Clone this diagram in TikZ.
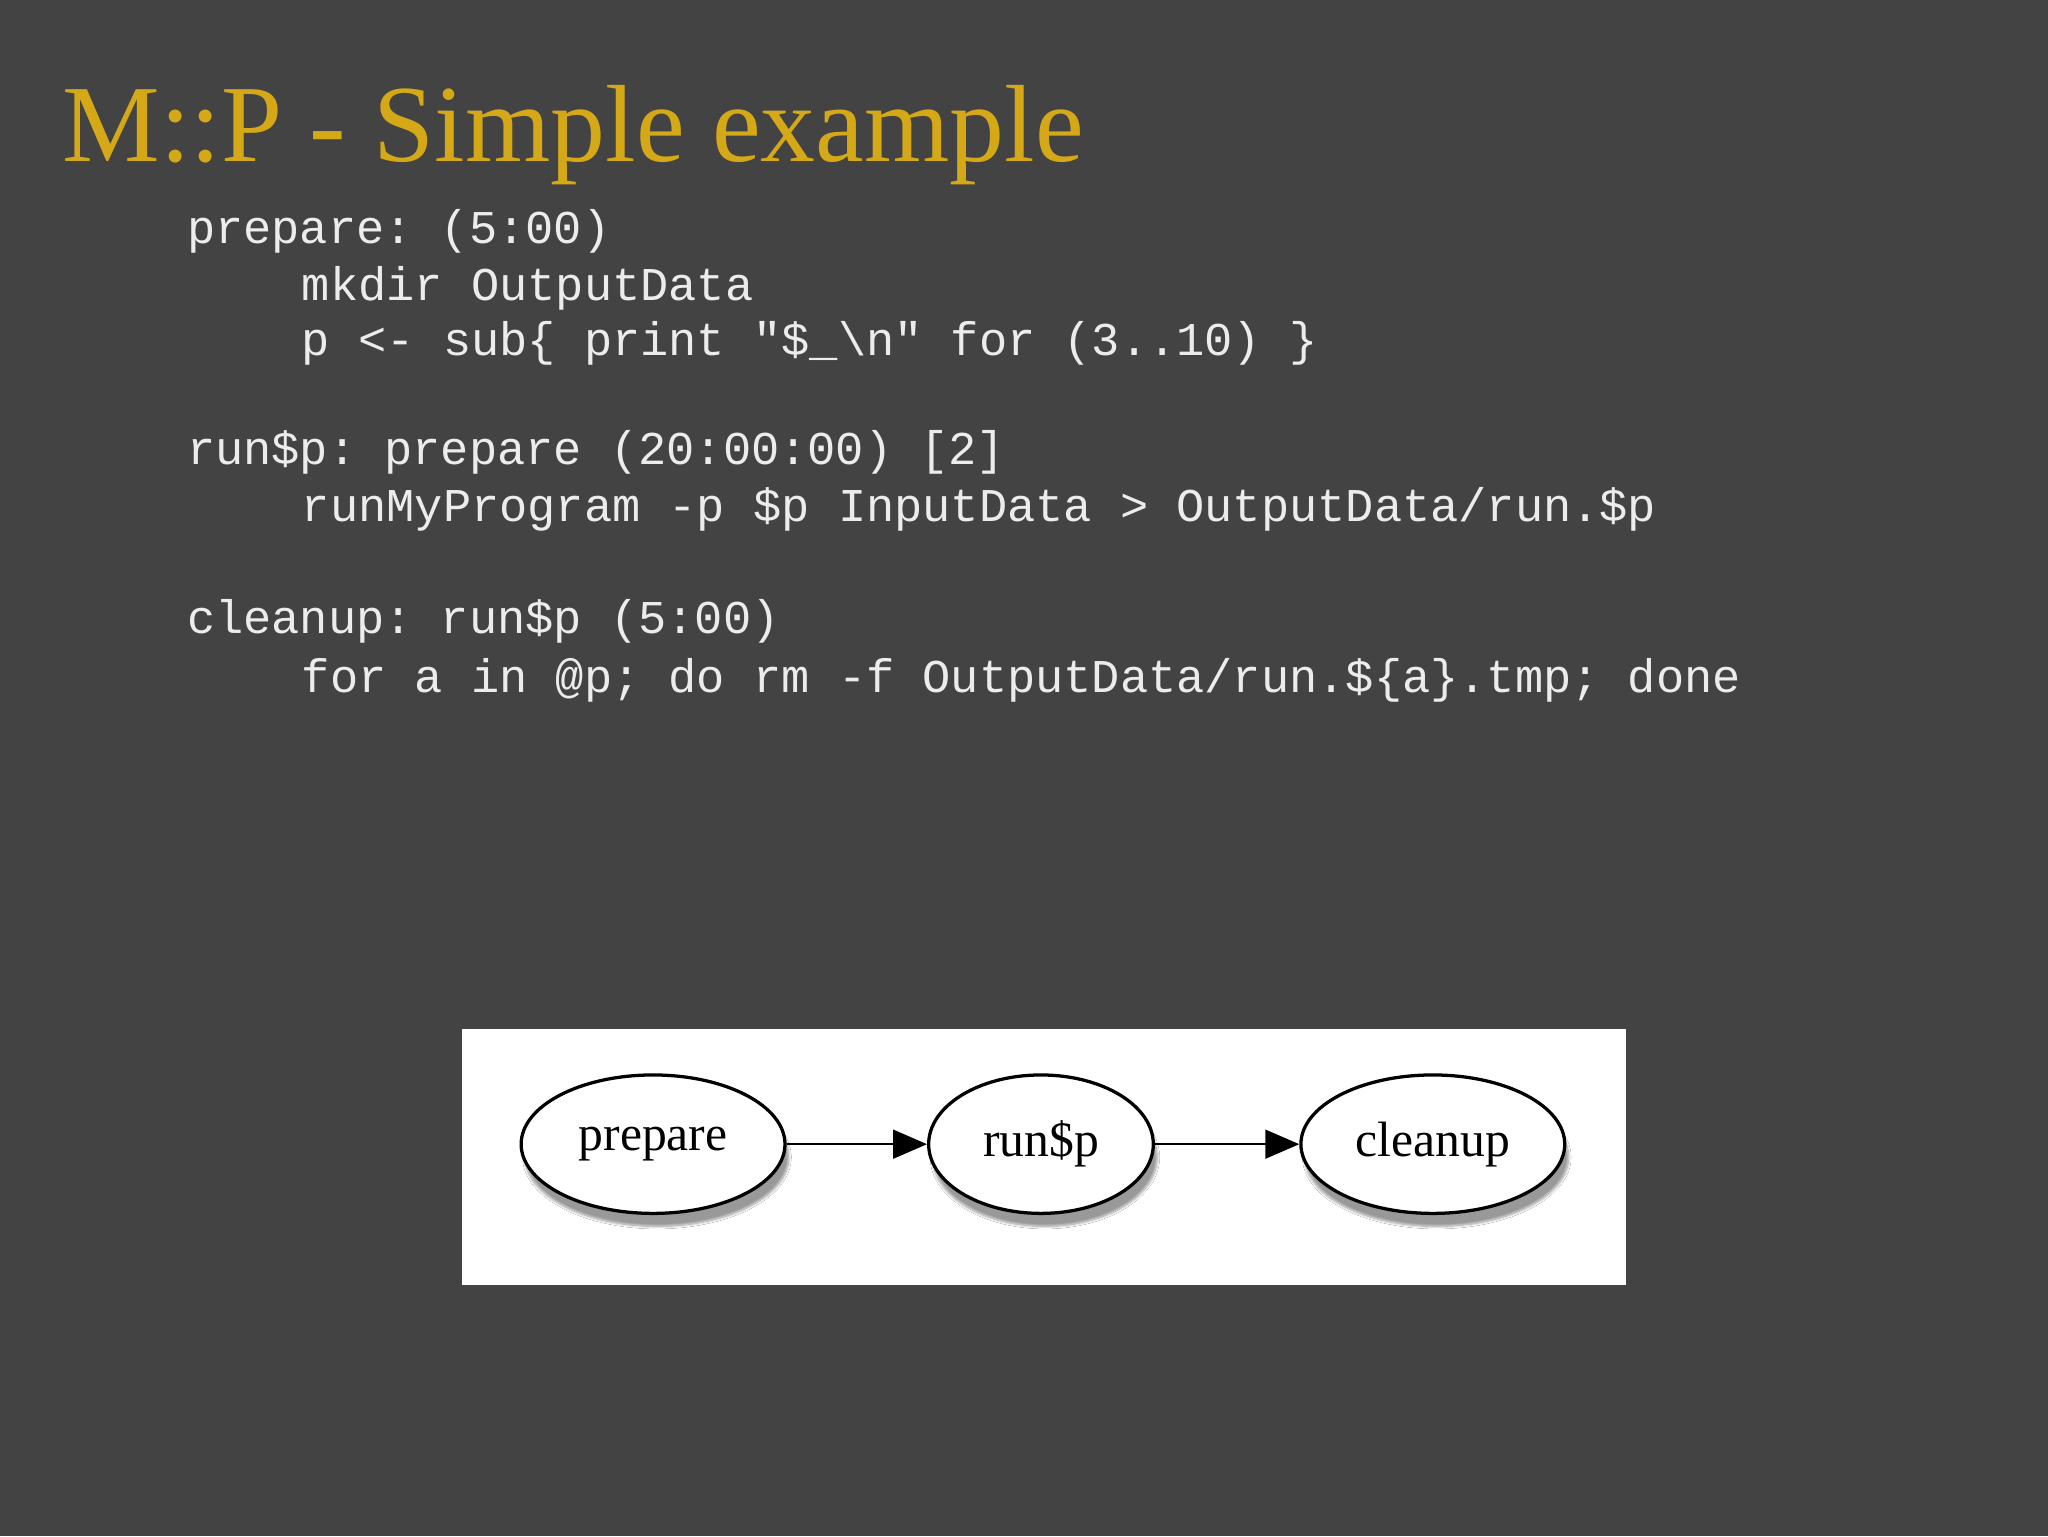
\documentclass[tikz,border=0pt]{standalone}
\usepackage{fontspec}
\setmainfont{Liberation Serif}
\setmonofont{Liberation Mono}
\usetikzlibrary{shapes.geometric,shadows.blur,arrows.meta}
\definecolor{bg}{HTML}{444344}
\definecolor{gold}{HTML}{D4A817}
\definecolor{code}{HTML}{ECECEC}
\tikzset{
  codeline/.style={anchor=west,text=code,font=\fontsize{36}{36}\selectfont\ttfamily,inner sep=0},
  ell/.style={ellipse,draw=black,line width=2.5pt,fill=white,minimum height=106pt,
    font=\fontsize{38}{38}\selectfont,blur shadow={shadow xshift=3pt,shadow yshift=-10pt,shadow blur steps=8}},
  conn/.style={line width=2pt,-{Triangle[length=26pt,width=22pt]}}
}
\begin{document}
\begin{tikzpicture}[x=1pt,y=-1pt]
\fill[bg] (0,0) rectangle (1568,1176);
\useasboundingbox (0,0) rectangle (1568,1176);
\node[anchor=base west,text=gold,font=\fontsize{84}{84}\selectfont,inner sep=0] (title) at (48,124) {M::P - Simple example};
\node[codeline] (l1) at (143,177) {prepare: (5:00)};
\node[codeline] (l2) at (231,221) {mkdir OutputData};
\node[codeline] (l3) at (231,263) {p <- sub\{ print "\$\_\textbackslash n" for (3..10) \}};
\node[codeline] (l4) at (143,346) {run\$p: prepare (20:00:00) [2]};
\node[codeline] (l5) at (231,390) {runMyProgram -p \$p InputData > OutputData/run.\$p};
\node[codeline] (l6) at (143,476) {cleanup: run\$p (5:00)};
\node[codeline] (l7) at (231,521) {for a in @p; do rm -f OutputData/run.\$\{a\}.tmp; done};
\fill[white] (354,788) rectangle (1245,984);
\node[ell,minimum width=202pt] (prep) at (500,876) {prepare};
\node[ell,minimum width=172pt] (run) at (797,876) {run\$p};
\node[ell,minimum width=202pt] (clean) at (1097,876) {cleanup};
\draw[conn] (prep) -- (run);
\draw[conn] (run) -- (clean);
\end{tikzpicture}
\end{document}
